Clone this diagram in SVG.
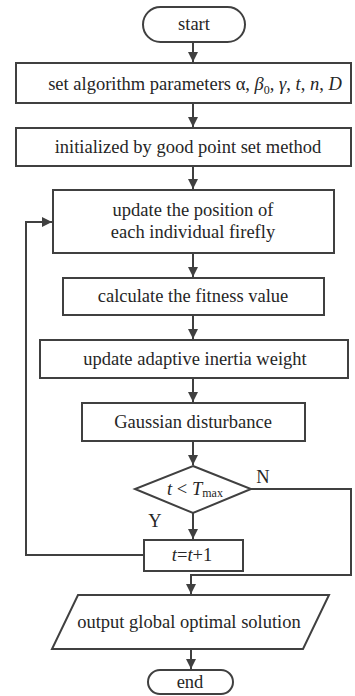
<svg xmlns="http://www.w3.org/2000/svg" width="355" height="696" viewBox="0 0 355 696">
<defs>
<marker id="arr" viewBox="0 0 10 10" refX="10" refY="5" markerWidth="10" markerHeight="10" markerUnits="userSpaceOnUse" orient="auto">
<path d="M0,0 L10,5 L0,10 z" fill="#404040"/>
</marker>
<style>
.n{fill:#fff;stroke:#404040;stroke-width:2}
.c{fill:none;stroke:#404040;stroke-width:2}
.t{font-family:"Liberation Serif","Times New Roman",serif;font-size:18.5px;fill:#262626;text-anchor:middle}
.i{font-style:italic}
</style>
</defs>
<rect width="355" height="696" fill="#fff"/>
<g id="connectors">
<path class="c" d="M193,42 V62" marker-end="url(#arr)"/>
<path class="c" d="M193,103 V127" marker-end="url(#arr)"/>
<path class="c" d="M193,166 V189" marker-end="url(#arr)"/>
<path class="c" d="M193,253 V277" marker-end="url(#arr)"/>
<path class="c" d="M193,315 V339" marker-end="url(#arr)"/>
<path class="c" d="M193,378 V402" marker-end="url(#arr)"/>
<path class="c" d="M193,441 V465" marker-end="url(#arr)"/>
<path class="c" d="M193,513 V539" marker-end="url(#arr)"/>
<path class="c" d="M144,555 H26 V222 H52" marker-end="url(#arr)"/>
<path class="c" d="M251,489 H351 V575 H191 V594" marker-end="url(#arr)"/>
<path class="c" d="M191,649 V669" marker-end="url(#arr)"/>
</g>
<g id="start">
<rect class="n" x="143" y="7" width="102" height="35" rx="17.5"/>
<text class="t" x="194" y="30">start</text>
</g>
<g id="set-params">
<rect class="n" x="16" y="63" width="335" height="40"/>
<text class="t" x="195" y="90">set algorithm parameters α, <tspan class="i">β</tspan><tspan font-size="12" dy="4">0</tspan><tspan dy="-4">, </tspan><tspan class="i">γ</tspan>, <tspan class="i">t</tspan>, <tspan class="i">n</tspan>, <tspan class="i">D</tspan></text>
</g>
<g id="init">
<rect class="n" x="16" y="128" width="335" height="38"/>
<text class="t" x="188" y="153">initialized by good point set method</text>
</g>
<g id="update-position">
<rect class="n" x="53" y="190" width="281" height="63"/>
<text class="t" x="193" y="216">update the position of</text>
<text class="t" x="193" y="238">each individual firefly</text>
</g>
<g id="fitness">
<rect class="n" x="63" y="278" width="261" height="37"/>
<text class="t" x="193" y="302">calculate the fitness value</text>
</g>
<g id="inertia">
<rect class="n" x="40" y="340" width="308" height="38"/>
<text class="t" x="195" y="365">update adaptive inertia weight</text>
</g>
<g id="gaussian">
<rect class="n" x="82" y="403" width="223" height="38"/>
<text class="t" x="193" y="428">Gaussian disturbance</text>
</g>
<g id="decision">
<polygon class="n" points="193,466 251,489 193,513 135,489"/>
<text class="t" x="195" y="495"><tspan class="i">t</tspan> &lt; <tspan class="i">T</tspan><tspan font-size="12" dy="2">max</tspan></text>
<text class="t" x="263" y="483">N</text>
<text class="t" x="155" y="527">Y</text>
</g>
<g id="increment">
<rect class="n" x="144" y="540" width="99" height="31"/>
<text class="t" x="192" y="561"><tspan class="i">t</tspan>=<tspan class="i">t</tspan>+1</text>
</g>
<g id="output">
<polygon class="n" points="78,595 329,595 303,649 52,649"/>
<text class="t" x="189" y="628">output global optimal solution</text>
</g>
<g id="end">
<rect class="n" x="148" y="670" width="85" height="24" rx="12"/>
<text class="t" x="190" y="688">end</text>
</g>
</svg>
